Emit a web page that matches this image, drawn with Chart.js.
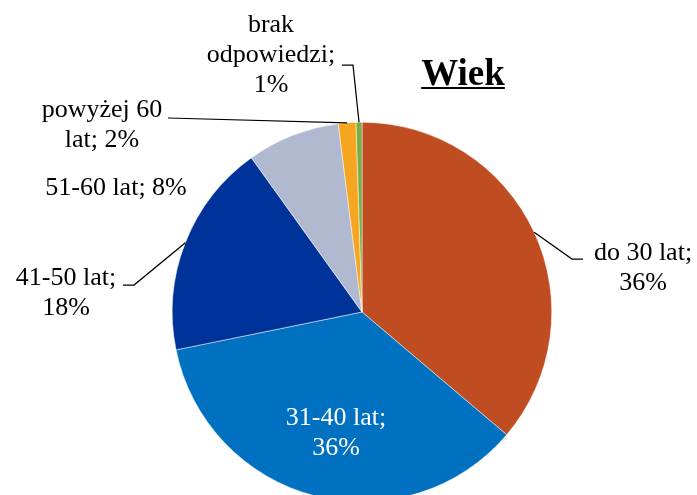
<!DOCTYPE html>
<html lang="pl">
<head>
<meta charset="utf-8">
<title>Wiek</title>
<script src="https://cdn.jsdelivr.net/npm/chart.js@4.4.1/dist/chart.umd.min.js"></script>
<style>
  html, body { margin:0; padding:0; background:#fff; }
  #wrap { width:697px; height:495px; overflow:hidden; position:relative; }
  canvas { display:block; }
</style>
</head>
<body>
<div id="wrap"><canvas id="chart" width="697" height="520"></canvas></div>
<script>
// -------- Dane --------
const TITLE = 'Wiek';
const categories  = ['do 30 lat', '31-40 lat', '41-50 lat', '51-60 lat', 'powyżej 60 lat', 'brak odpowiedzi'];
const shares      = [36.2, 35.6, 18.3, 7.9, 1.5, 0.5];
const shareLabels = ['36%', '36%', '18%', '8%', '2%', '1%'];
const colors      = ['#C04C22', '#0070C0', '#003399', '#B1B9D0', '#F6A520', '#78AD45'];

// -------- Rozmieszczenie etykiet --------
// x = środek tekstu, y = linia bazowa pierwszego wiersza, wrap = szerokość zawijania
const labelLayout = [
  { x: 643, y: 260, wrap: 110, color: '#000', leader: [[572, 259], [583, 259]] },
  { x: 336, y: 425, wrap: 110, color: '#fff', leader: null },
  { x: 66,  y: 285, wrap: 110, color: '#000', leader: [[134, 285], [123, 285]] },
  { x: 116, y: 195, wrap: 150, color: '#000', leader: null },
  { x: 102, y: 117, wrap: 130, color: '#000', leader: [[168, 118]] },
  { x: 271, y: 32,  wrap: 135, color: '#000', leader: [[353, 65], [342, 65]] },
];
const FONT = "'Liberation Serif', 'Times New Roman', serif";
const LINE_H = 30;

function wrapText(ctx, text, maxW) {
  const words = text.split(' ');
  const lines = [];
  let cur = '';
  for (const w of words) {
    const test = cur ? cur + ' ' + w : w;
    if (cur && ctx.measureText(test).width > maxW) { lines.push(cur); cur = w; }
    else cur = test;
  }
  if (cur) lines.push(cur);
  return lines;
}

const pieLabels = {
  id: 'pieLabels',
  afterDatasetsDraw(chart) {
    const ctx = chart.ctx;
    const meta = chart.getDatasetMeta(0);
    ctx.save();
    meta.data.forEach((arc, i) => {
      const L = labelLayout[i];
      const { x, y, startAngle, endAngle, outerRadius } = arc.getProps(['x', 'y', 'startAngle', 'endAngle', 'outerRadius'], true);
      if (L.leader) {
        const mid = (startAngle + endAngle) / 2;
        ctx.beginPath();
        ctx.moveTo(x + Math.cos(mid) * outerRadius, y + Math.sin(mid) * outerRadius);
        L.leader.forEach(p => ctx.lineTo(p[0], p[1]));
        ctx.strokeStyle = '#000';
        ctx.lineWidth = 1.25;
        ctx.stroke();
      }
      ctx.font = `26px ${FONT}`;
      ctx.fillStyle = L.color;
      ctx.textAlign = 'center';
      ctx.textBaseline = 'alphabetic';
      const lines = wrapText(ctx, `${categories[i]}; ${shareLabels[i]}`, L.wrap);
      lines.forEach((ln, k) => ctx.fillText(ln, L.x, L.y + k * LINE_H));
    });

    // tytuł (pogrubiony, podkreślony)
    ctx.font = `bold 37px ${FONT}`;
    ctx.fillStyle = '#000';
    ctx.textAlign = 'center';
    const tx = 463, ty = 85;
    ctx.fillText(TITLE, tx, ty);
    const w = ctx.measureText(TITLE).width;
    ctx.fillRect(tx - w / 2, ty + 2, w, 2);
    ctx.restore();
  }
};

new Chart(document.getElementById('chart').getContext('2d'), {
  type: 'pie',
  data: {
    labels: categories,
    datasets: [{
      data: shares,
      backgroundColor: colors,
      borderColor: '#fff',
      borderWidth: 0.5
    }]
  },
  options: {
    responsive: false,
    animation: false,
    layout: { padding: { left: 172, right: 145, top: 122, bottom: 18 } },
    plugins: { legend: { display: false }, tooltip: { enabled: false } }
  },
  plugins: [pieLabels]
});
</script>
</body>
</html>
